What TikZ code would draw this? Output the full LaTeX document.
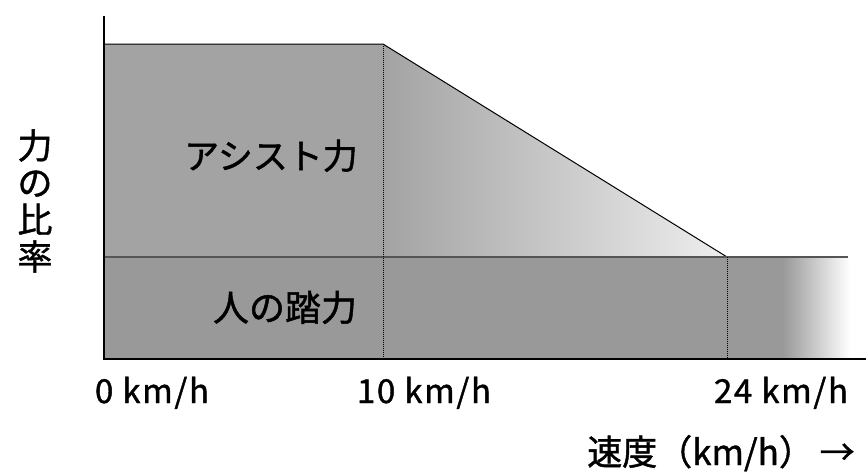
\documentclass[tikz,border=0pt]{standalone}
\usepackage{fontspec}
\setmainfont{Noto Sans CJK JP}[FakeBold=1.2]
\usetikzlibrary{positioning}
\definecolor{assistgray}{HTML}{A3A3A3}
\definecolor{pedalgray}{HTML}{999999}
\definecolor{fadegray}{HTML}{EEEEEE}
\definecolor{bandline}{HTML}{555555}
\begin{document}
\begin{tikzpicture}[x=1pt, y=-1pt]
  \tikzset{speed/.style={font=\fontsize{33}{33}\selectfont\addfontfeature{LetterSpace=5}, inner sep=0pt, anchor=base},
           area/.style={font=\fontsize{35}{35}\selectfont, inner sep=0pt, anchor=base},
           guide/.style={densely dotted, line width=1pt}}
  \useasboundingbox (0,0) rectangle (866,471);

  %--- regions ---
  \fill[assistgray] (104,44) rectangle (383,257);
  \shade[left color=assistgray, right color=fadegray] (383,44) -- (727,257) -- (383,257) -- cycle;
  \fill[pedalgray] (104,257) rectangle (783,359);
  \shade[left color=pedalgray, right color=white] (783,257) rectangle (850,359);

  %--- outlines ---
  \draw[line width=1pt] (104,44) -- (383,44) -- (727,257);
  \draw[bandline, line width=1.5pt] (104,257) -- (848,257);
  \draw[guide] (383,44) -- (383,359);
  \draw[guide] (727,257) -- (727,359);

  %--- axes ---
  \draw[line width=2pt] (104,16) -- (104,359) -- (866,359);

  %--- labels ---
  \node[area] (assist) at (271,169) {アシスト力};
  \node[area, font=\fontsize{36}{36}\selectfont] (pedal) at (285,321) {人の踏力};
  \node[font=\fontsize{35}{37}\selectfont, align=center, inner sep=0pt] (ratio) at (35,201) {力\\の\\比\\率};

  \node[speed] (v0) at (152,403) {0 km/h};
  \node[speed] (v10) at (424,403) {10 km/h};
  \node[speed] (v24) at (781,403) {24 km/h};
  \node[speed, font=\fontsize{35}{35}\selectfont] (speedaxis) at (721,465) {速度（km/h）\,→};
\end{tikzpicture}
\end{document}
